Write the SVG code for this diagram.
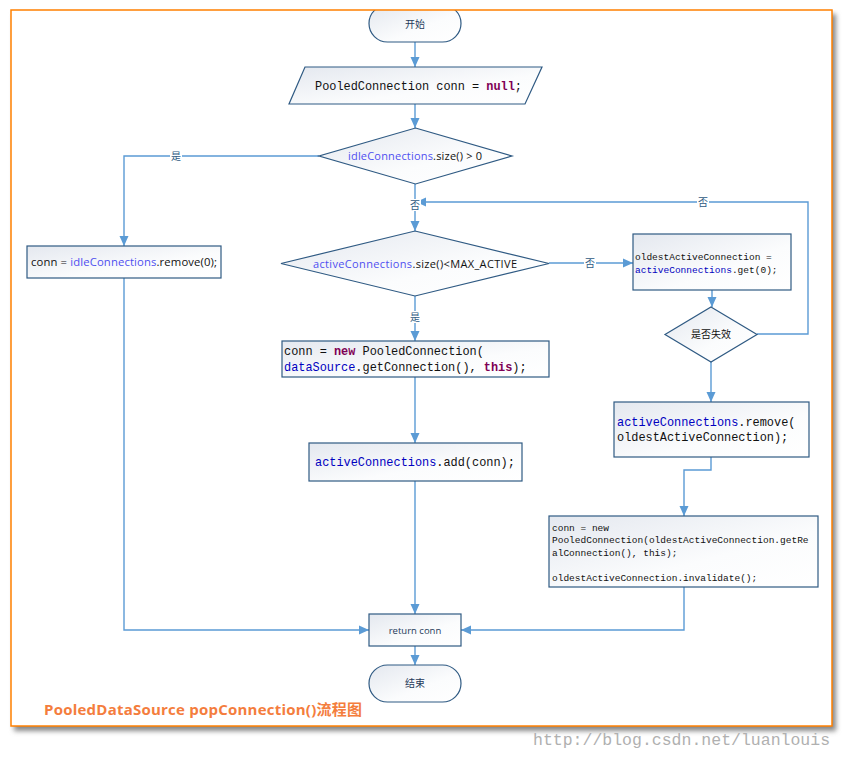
<svg xmlns="http://www.w3.org/2000/svg" width="844" height="759" viewBox="0 0 844 759">
<defs>
<linearGradient id="g" x1="0" y1="0" x2="1" y2="1">
<stop offset="0" stop-color="#e4e8ef"/>
<stop offset="0.6" stop-color="#fbfcfd"/>
<stop offset="1" stop-color="#ffffff"/>
</linearGradient>
<marker id="ah" markerUnits="userSpaceOnUse" markerWidth="10" markerHeight="10" refX="10" refY="5" orient="auto" viewBox="0 0 10 10">
<path d="M0,0.5 L10,5 L0,9.5 z" fill="#5b9bd5"/>
</marker>
<filter id="sh" x="-5%" y="-5%" width="110%" height="110%">
<feGaussianBlur stdDeviation="2.5"/>
</filter>
</defs>
<style>
.n{fill:url(#g);stroke:#2f5a83;stroke-width:1.2}
.c{fill:none;stroke:#5b9bd5;stroke-width:1.4;marker-end:url(#ah)}
.s{font-family:"Open Sans","Noto Sans","Noto Sans CJK SC",sans-serif;fill:#111}
.cj{font-family:"Noto Sans CJK SC",sans-serif;fill:#1f3a5a;font-size:10px}
.m{font-family:"Liberation Mono","DejaVu Sans Mono",monospace;fill:#111}
.b{fill:#4f4ff0}
.mb{fill:#0000c0}
.k{fill:#7f0055;font-weight:bold}
.lb{font-family:"Noto Sans CJK SC",sans-serif;font-size:10px;fill:#2f5a83;text-anchor:middle}
</style>
<rect width="844" height="759" fill="#ffffff"/>
<rect x="14" y="14" width="822" height="717" fill="#888" filter="url(#sh)"/>
<rect x="11" y="10" width="821" height="716" fill="#ffffff"/>

<g id="connectors">
<path class="c" d="M415,42 V67"/>
<path class="c" d="M415,104 V128"/>
<path class="c" d="M319,156 H124 V246"/>
<path class="c" d="M415,184 V231"/>
<path class="c" d="M757,334 H808 V202 H416"/>
<path class="c" d="M549,263 H633"/>
<path class="c" d="M415,296 V341"/>
<path class="c" d="M415,377 V443"/>
<path class="c" d="M415,481 V614"/>
<path class="c" d="M124,278 V630 H369"/>
<path class="c" d="M712,290 V307"/>
<path class="c" d="M711,362 V402"/>
<path class="c" d="M711,457 V470 H684 V516"/>
<path class="c" d="M684,587 V630 H461"/>
<path class="c" d="M415,646 V665"/>
<rect x="170" y="150" width="12" height="12" fill="#fff"/>
<text class="lb" x="176" y="159.5">是</text>
<rect x="409" y="199" width="12" height="12" fill="#fff"/>
<text class="lb" x="415" y="209">否</text>
<rect x="697" y="196" width="12" height="12" fill="#fff"/>
<text class="lb" x="703" y="205.5">否</text>
<rect x="584" y="257" width="12" height="12" fill="#fff"/>
<text class="lb" x="590" y="266.5">否</text>
<rect x="409" y="311" width="12" height="12" fill="#fff"/>
<text class="lb" x="415" y="321">是</text>
</g>

<g id="start">
<rect class="n" x="369" y="5" width="92" height="37" rx="18.5"/>
<text class="cj" x="415" y="27.5" text-anchor="middle">开始</text>
</g>

<g id="init">
<polygon class="n" points="305,67 542,67 525,104 289,104"/>
<text class="m" x="315" y="89.5" font-size="11.9">PooledConnection conn = <tspan class="k">null</tspan>;</text>
</g>

<g id="cond-idle">
<polygon class="n" points="415.5,128 512,156 415.5,184 319,156"/>
<text class="s" x="348" y="160" font-size="11" textLength="134"><tspan class="b">idleConnections</tspan>.size() &gt; 0</text>
</g>

<g id="idle-remove">
<rect class="n" x="27" y="246" width="194" height="32"/>
<text class="s" x="31" y="266" font-size="11.3" textLength="186">conn = <tspan class="b">idleConnections</tspan>.remove(0);</text>
</g>

<g id="cond-active">
<polygon class="n" points="415,231 549,263.5 415,296 281,263.5"/>
<text class="s" x="313" y="267.5" font-size="11" textLength="204"><tspan class="b">activeConnections</tspan>.size()&lt;MAX_ACTIVE</text>
</g>

<g id="new-conn">
<rect class="n" x="282" y="341" width="267" height="36"/>
<text class="m" x="284" y="355" font-size="11.9">conn = <tspan class="k">new</tspan> PooledConnection(</text>
<text class="m" x="284" y="371" font-size="11.9"><tspan class="mb">dataSource</tspan>.getConnection(), <tspan class="k">this</tspan>);</text>
</g>

<g id="active-add">
<rect class="n" x="309" y="443" width="213" height="38"/>
<text class="m" x="315" y="466" font-size="11.9"><tspan class="mb">activeConnections</tspan>.add(conn);</text>
</g>

<g id="oldest">
<rect class="n" x="633" y="234" width="158" height="56"/>
<text class="m" x="635" y="259.5" font-size="9.5">oldestActiveConnection =</text>
<text class="m" x="635" y="272.5" font-size="9.5"><tspan class="mb">activeConnections</tspan>.get(0);</text>
</g>

<g id="cond-invalid">
<polygon class="n" points="711,307 757,334.5 711,362 665,334.5"/>
<text class="cj" x="711" y="338" text-anchor="middle" font-size="10.5" style="fill:#111">是否失效</text>
</g>

<g id="active-remove">
<rect class="n" x="614" y="402" width="195" height="55"/>
<text class="m" x="617" y="426" font-size="11.9"><tspan class="mb">activeConnections</tspan>.remove(</text>
<text class="m" x="617" y="441" font-size="11.9">oldestActiveConnection);</text>
</g>

<g id="new-real">
<rect class="n" x="549" y="516" width="269" height="71"/>
<text class="m" x="552" y="530.5" font-size="9.5">conn = new</text>
<text class="m" x="552" y="543" font-size="9.5">PooledConnection(oldestActiveConnection.getRe</text>
<text class="m" x="552" y="555.5" font-size="9.5">alConnection(), this);</text>
<text class="m" x="552" y="580.5" font-size="9.5">oldestActiveConnection.invalidate();</text>
</g>

<g id="return">
<rect class="n" x="369" y="614" width="92" height="32"/>
<text class="s" x="415" y="633.5" font-size="9.5" text-anchor="middle" style="fill:#1f3a5a">return  conn</text>
</g>

<g id="end">
<rect class="n" x="369" y="665" width="92" height="37" rx="18.5"/>
<text class="cj" x="415" y="687" text-anchor="middle" font-size="10.5">结束</text>
</g>

<rect x="0" y="0" width="844" height="10" fill="#ffffff"/>
<rect x="11" y="10" width="821" height="716" fill="none" stroke="#ff8000" stroke-width="1.5"/>

<text x="44" y="715" font-family="'Open Sans','Noto Sans','Noto Sans CJK SC',sans-serif" font-weight="bold" font-size="15" fill="#f47d3d" textLength="318">PooledDataSource popConnection()流程图</text>
<text x="533" y="745" font-family="'Liberation Mono',monospace" font-size="16.5" fill="#b0b0b0">http://blog.csdn.net/luanlouis</text>
</svg>
